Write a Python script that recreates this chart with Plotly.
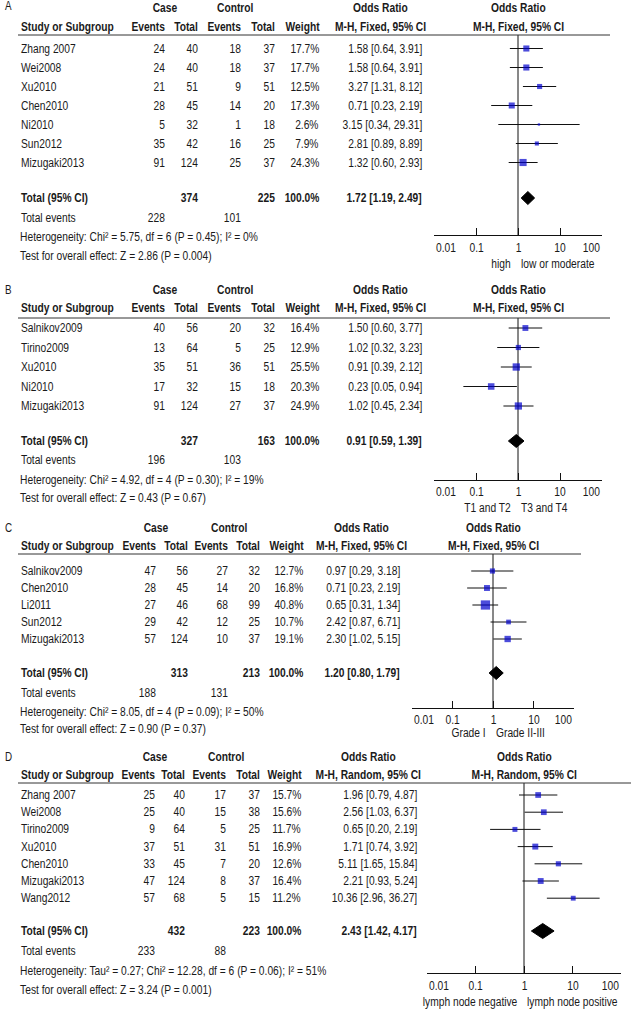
import math
import plotly.graph_objects as go

W, H = 631, 1010
FONT = "Liberation Sans, Arial, sans-serif"
FS = 12.5
TXT = "#1a1a1a"
BLUE = "#0000CC"
SQUEEZE = 0.82   # horizontal compression to mimic a narrow (Arial Narrow-like) face

# ---------------- data ----------------
# Panel A
a_study = ["Zhang 2007", "Wei2008", "Xu2010", "Chen2010", "Ni2010", "Sun2012", "Mizugaki2013"]
a_case_ev = [24, 24, 21, 28, 5, 35, 91]
a_case_tot = [40, 40, 51, 45, 32, 42, 124]
a_ctrl_ev = [18, 18, 9, 14, 1, 16, 25]
a_ctrl_tot = [37, 37, 51, 20, 18, 25, 37]
a_weight = [17.7, 17.7, 12.5, 17.3, 2.6, 7.9, 24.3]
a_or = [1.58, 1.58, 3.27, 0.71, 3.15, 2.81, 1.32]
a_lo = [0.64, 0.64, 1.31, 0.23, 0.34, 0.89, 0.60]
a_hi = [3.91, 3.91, 8.12, 2.19, 29.31, 8.89, 2.93]
a_tot = [374, 225]
a_tot_or = [1.72, 1.19, 2.49]
a_tot_ev = [228, 101]
a_het = "Heterogeneity: Chi² = 5.75, df = 6 (P = 0.45); I² = 0%"
a_test = "Test for overall effect: Z = 2.86 (P = 0.004)"
a_fav = ["high", "low or moderate"]

# Panel B
b_study = ["Salnikov2009", "Tirino2009", "Xu2010", "Ni2010", "Mizugaki2013"]
b_case_ev = [40, 13, 35, 17, 91]
b_case_tot = [56, 64, 51, 32, 124]
b_ctrl_ev = [20, 5, 36, 15, 27]
b_ctrl_tot = [32, 25, 51, 18, 37]
b_weight = [16.4, 12.9, 25.5, 20.3, 24.9]
b_or = [1.50, 1.02, 0.91, 0.23, 1.02]
b_lo = [0.60, 0.32, 0.39, 0.05, 0.45]
b_hi = [3.77, 3.23, 2.12, 0.94, 2.34]
b_tot = [327, 163]
b_tot_or = [0.91, 0.59, 1.39]
b_tot_ev = [196, 103]
b_het = "Heterogeneity: Chi² = 4.92, df = 4 (P = 0.30); I² = 19%"
b_test = "Test for overall effect: Z = 0.43 (P = 0.67)"
b_fav = ["T1 and T2", "T3 and T4"]

# Panel C
c_study = ["Salnikov2009", "Chen2010", "Li2011", "Sun2012", "Mizugaki2013"]
c_case_ev = [47, 28, 27, 29, 57]
c_case_tot = [56, 45, 46, 42, 124]
c_ctrl_ev = [27, 14, 68, 12, 10]
c_ctrl_tot = [32, 20, 99, 25, 37]
c_weight = [12.7, 16.8, 40.8, 10.7, 19.1]
c_or = [0.97, 0.71, 0.65, 2.42, 2.30]
c_lo = [0.29, 0.23, 0.31, 0.87, 1.02]
c_hi = [3.18, 2.19, 1.34, 6.71, 5.15]
c_tot = [313, 213]
c_tot_or = [1.20, 0.80, 1.79]
c_tot_ev = [188, 131]
c_het = "Heterogeneity: Chi² = 8.05, df = 4 (P = 0.09); I² = 50%"
c_test = "Test for overall effect: Z = 0.90 (P = 0.37)"
c_fav = ["Grade I", "Grade II-III"]

# Panel D
d_study = ["Zhang 2007", "Wei2008", "Tirino2009", "Xu2010", "Chen2010", "Mizugaki2013", "Wang2012"]
d_case_ev = [25, 25, 9, 37, 33, 47, 57]
d_case_tot = [40, 40, 64, 51, 45, 124, 68]
d_ctrl_ev = [17, 15, 5, 31, 7, 8, 5]
d_ctrl_tot = [37, 38, 25, 51, 20, 37, 15]
d_weight = [15.7, 15.6, 11.7, 16.9, 12.6, 16.4, 11.2]
d_or = [1.96, 2.56, 0.65, 1.71, 5.11, 2.21, 10.36]
d_lo = [0.79, 1.03, 0.20, 0.74, 1.65, 0.93, 2.96]
d_hi = [4.87, 6.37, 2.19, 3.92, 15.84, 5.24, 36.27]
d_tot = [432, 223]
d_tot_or = [2.43, 1.42, 4.17]
d_tot_ev = [233, 88]
d_het = "Heterogeneity: Tau² = 0.27; Chi² = 12.28, df = 6 (P = 0.06); I² = 51%"
d_test = "Test for overall effect: Z = 3.24 (P = 0.001)"
d_fav = ["lymph node negative", "lymph node positive"]

axis_ticks = [0.01, 0.1, 1, 10, 100]
axis_ticktext = ["0.01", "0.1", "1", "10", "100"]

panels_data = [
    dict(label="A", method="M-H, Fixed, 95% CI", study=a_study, cev=a_case_ev, ctot=a_case_tot,
         kev=a_ctrl_ev, ktot=a_ctrl_tot, w=a_weight, orr=a_or, lo=a_lo, hi=a_hi, tot=a_tot,
         tot_or=a_tot_or, tot_ev=a_tot_ev, het=a_het, test=a_test, fav=a_fav),
    dict(label="B", method="M-H, Fixed, 95% CI", study=b_study, cev=b_case_ev, ctot=b_case_tot,
         kev=b_ctrl_ev, ktot=b_ctrl_tot, w=b_weight, orr=b_or, lo=b_lo, hi=b_hi, tot=b_tot,
         tot_or=b_tot_or, tot_ev=b_tot_ev, het=b_het, test=b_test, fav=b_fav),
    dict(label="C", method="M-H, Fixed, 95% CI", study=c_study, cev=c_case_ev, ctot=c_case_tot,
         kev=c_ctrl_ev, ktot=c_ctrl_tot, w=c_weight, orr=c_or, lo=c_lo, hi=c_hi, tot=c_tot,
         tot_or=c_tot_or, tot_ev=c_tot_ev, het=c_het, test=c_test, fav=c_fav),
    dict(label="D", method="M-H, Random, 95% CI", study=d_study, cev=d_case_ev, ctot=d_case_tot,
         kev=d_ctrl_ev, ktot=d_ctrl_tot, w=d_weight, orr=d_or, lo=d_lo, hi=d_hi, tot=d_tot,
         tot_or=d_tot_or, tot_ev=d_tot_ev, het=d_het, test=d_test, fav=d_fav),
]

# ---------------- layout geometry (pixels) ----------------
geom = [
    dict(label_y=6, h1=8, h2=27, rule=35, rule_x1=610, row0=48.5, pitch=19.0, total_y=198,
         footer=[218, 237, 256], axis_y=235, tick_y=248, fav_y=264, forest=(434, 602),
         c_cev=167, c_ctot=200, c_kev=243, c_ktot=277, c_w=321, c_or=424,
         case_c=165, ctrl_c=235, or_c=380, dia=6.5),
    dict(label_y=290, h1=290, h2=308, rule=318, rule_x1=610, row0=328, pitch=19.5, total_y=441,
         footer=[460, 480, 498], axis_y=480, tick_y=492, fav_y=508, forest=(434, 602),
         c_cev=167, c_ctot=200, c_kev=243, c_ktot=277, c_w=321, c_or=424,
         case_c=165, ctrl_c=235, or_c=380, dia=6.5),
    dict(label_y=528, h1=528, h2=546, rule=554, rule_x1=581, row0=571, pitch=17.0, total_y=673,
         footer=[693, 712, 729], axis_y=708, tick_y=720, fav_y=733, forest=(412, 574),
         c_cev=158, c_ctot=190, c_kev=230, c_ktot=262, c_w=305, c_or=402,
         case_c=156, ctrl_c=229, or_c=361, dia=6.5),
    dict(label_y=757, h1=757, h2=775, rule=783, rule_x1=631, row0=795, pitch=17.2, total_y=931,
         footer=[951, 971, 990], axis_y=973, tick_y=986, fav_y=1002, forest=(427, 621),
         c_cev=157, c_ctot=187, c_kev=228, c_ktot=262, c_w=303, c_or=419,
         case_c=155, ctrl_c=226, or_c=368, dia=7.5),
]

fig = go.Figure()
annotations = []
shapes = []


def ann(text, x, y, xanchor="left", bold=False, xref="x", size=FS, xshift=0):
    t = f"<b>{text}</b>" if bold else text
    annotations.append(dict(text=t, x=x, y=y, xref=xref, yref="y", xanchor=xanchor,
                            yanchor="middle", showarrow=False, xshift=xshift,
                            font=dict(family=FONT, size=size, color=TXT)))


def fmt_or(o, l, h):
    return f"{o:.2f} [{l:.2f}, {h:.2f}]"


layout_axes = {}
for i, (pd_, g) in enumerate(zip(panels_data, geom)):
    xa = f"x{i + 2}"
    xa_name = f"xaxis{i + 2}"
    n = len(pd_["study"])
    rows = [g["row0"] + k * g["pitch"] for k in range(n)]
    left = 18

    # panel letter
    ann(pd_["label"], 3, g["label_y"], "left", size=12)
    # header line 1
    ann("Case", g["case_c"], g["h1"], "center", bold=True)
    ann("Control", g["ctrl_c"], g["h1"], "center", bold=True)
    ann("Odds Ratio", g["or_c"], g["h1"], "center", bold=True)
    ann("Odds Ratio", 0, g["h1"], "center", bold=True, xref=xa)
    # header line 2
    ann("Study or Subgroup", left + 1, g["h2"], "left", bold=True)
    ann("Events", g["c_cev"], g["h2"], "right", bold=True)
    ann("Total", g["c_ctot"], g["h2"], "right", bold=True)
    ann("Events", g["c_kev"], g["h2"], "right", bold=True)
    ann("Total", g["c_ktot"], g["h2"], "right", bold=True)
    ann("Weight", g["c_w"] + 1, g["h2"], "right", bold=True)
    ann(pd_["method"], g["or_c"], g["h2"], "center", bold=True)
    ann(pd_["method"], 0, g["h2"], "center", bold=True, xref=xa)

    shapes.append(dict(type="line", xref="x", yref="y", x0=left, x1=g["rule_x1"],
                       y0=g["rule"], y1=g["rule"], line=dict(color="#333333", width=1)))

    for k in range(n):
        y = rows[k]
        ann(pd_["study"][k], left + 1, y, "left")
        ann(str(pd_["cev"][k]), g["c_cev"], y, "right")
        ann(str(pd_["ctot"][k]), g["c_ctot"], y, "right")
        ann(str(pd_["kev"][k]), g["c_kev"], y, "right")
        ann(str(pd_["ktot"][k]), g["c_ktot"], y, "right")
        ann(f"{pd_['w'][k]:.1f}%", g["c_w"], y, "right")
        ann(fmt_or(pd_["orr"][k], pd_["lo"][k], pd_["hi"][k]), g["c_or"], y, "right")

    ty = g["total_y"]
    ann("Total (95% CI)", left + 1, ty, "left", bold=True)
    ann(str(pd_["tot"][0]), g["c_ctot"], ty, "right", bold=True)
    ann(str(pd_["tot"][1]), g["c_ktot"], ty, "right", bold=True)
    ann("100.0%", g["c_w"], ty, "right", bold=True)
    ann(fmt_or(*pd_["tot_or"]), g["c_or"], ty, "right", bold=True)

    f1, f2, f3 = g["footer"]
    ann("Total events", left + 1, f1, "left")
    ann(str(pd_["tot_ev"][0]), g["c_cev"], f1, "right")
    ann(str(pd_["tot_ev"][1]), g["c_kev"], f1, "right")
    ann(pd_["het"], left, f2, "left")
    ann(pd_["test"], left, f3, "left")

    # forest: CI lines
    cx, cy = [], []
    for k in range(n):
        cx += [pd_["lo"][k], pd_["hi"][k], None]
        cy += [rows[k], rows[k], None]
    fig.add_trace(go.Scatter(x=cx, y=cy, mode="lines", xaxis=xa, yaxis="y",
                             line=dict(color="#111111", width=1), hoverinfo="skip",
                             showlegend=False))
    # null line
    fig.add_trace(go.Scatter(x=[1, 1], y=[g["rule"], g["axis_y"]], mode="lines", xaxis=xa,
                             yaxis="y", line=dict(color="#111111", width=1),
                             hoverinfo="skip", showlegend=False))
    # squares
    fig.add_trace(go.Scatter(x=pd_["orr"], y=rows, mode="markers", xaxis=xa, yaxis="y",
                             marker=dict(symbol="square", color=BLUE,
                                         size=[1.45 * math.sqrt(w) for w in pd_["w"]],
                                         line=dict(width=0)),
                             hoverinfo="skip", showlegend=False))
    # diamond
    o, l, h = pd_["tot_or"]
    d = g["dia"]
    fig.add_trace(go.Scatter(x=[l, o, h, o, l], y=[ty, ty - d, ty, ty + d, ty], mode="lines",
                             fill="toself", fillcolor="black", xaxis=xa, yaxis="y",
                             line=dict(color="black", width=1), hoverinfo="skip",
                             showlegend=False))

    # tick labels
    for v, t in zip(axis_ticks, axis_ticktext):
        xanc = "left" if v == axis_ticks[0] else ("right" if v == axis_ticks[-1] else "center")
        ann(t, math.log10(v), g["tick_y"], xanc, xref=xa)
    # favours labels
    ann(pd_["fav"][0], 0, g["fav_y"], "right", xref=xa, xshift=-5)
    ann(pd_["fav"][1], 0, g["fav_y"], "left", xref=xa, xshift=1)

    layout_axes[xa_name] = dict(
        type="log", range=[-2, 2], domain=[g["forest"][0] / W, g["forest"][1] / W],
        anchor="free", position=1 - g["axis_y"] / H, showline=True, linecolor="#111111",
        linewidth=1, ticks="inside", ticklen=7, tickwidth=1, tickcolor="#111111",
        tickvals=axis_ticks, showticklabels=False, showgrid=False, zeroline=False,
        fixedrange=True)

fig.update_layout(
    width=W, height=H, margin=dict(l=0, r=0, t=0, b=0),
    paper_bgcolor="white", plot_bgcolor="rgba(0,0,0,0)", showlegend=False,
    xaxis=dict(range=[0, W], domain=[0, 1], visible=False, fixedrange=True),
    yaxis=dict(range=[H, 0], domain=[0, 1], visible=False, fixedrange=True),
    annotations=annotations, shapes=shapes,
    **layout_axes,
)

# Compress annotation text horizontally about its anchor edge (narrow-font look)
post_js = """
document.body.style.margin='0';
var gd = document.getElementById('{plot_id}');
var anns = gd.layout.annotations || [];
gd.querySelectorAll('g.annotation').forEach(function(g){
  var i = +g.getAttribute('data-index');
  var a = anns[i];
  var t = g.querySelector('text.annotation-text');
  if(!a || !t) return;
  var bb = t.getBBox();
  var px = a.xanchor==='left' ? bb.x : (a.xanchor==='right' ? bb.x + bb.width : bb.x + bb.width/2);
  var prev = t.getAttribute('transform') || '';
  t.setAttribute('transform', prev + ' translate(' + px + ',0) scale(%s,1) translate(' + (-px) + ',0)');
});
""" % SQUEEZE

fig.write_html("out.html", config={"displayModeBar": False}, post_script=post_js)
